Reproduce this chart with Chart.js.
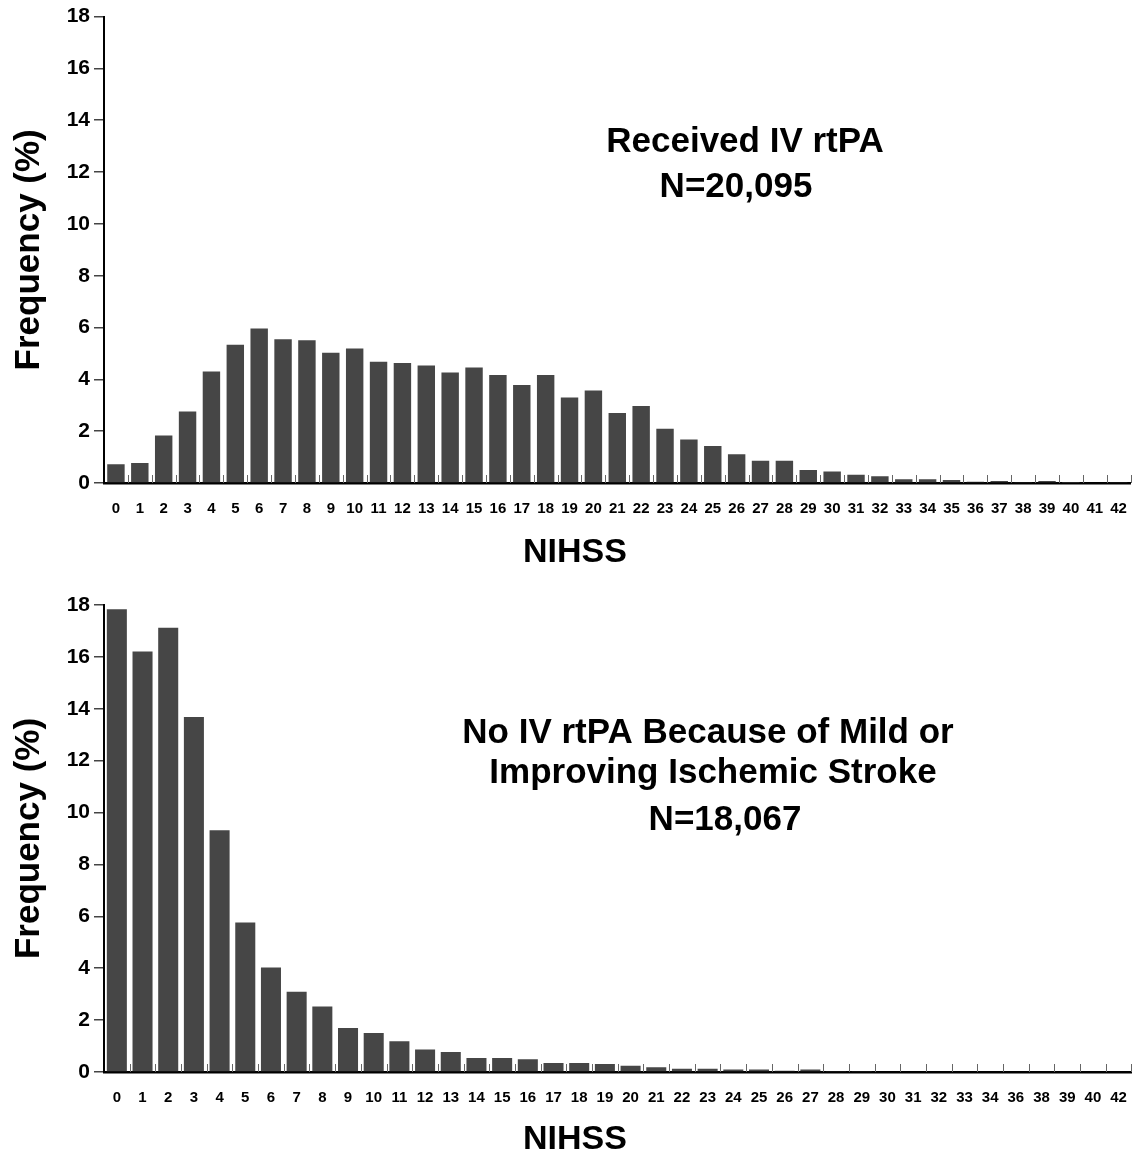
<!DOCTYPE html>
<html>
<head>
<meta charset="utf-8">
<title>NIHSS distribution</title>
<script src="https://cdn.jsdelivr.net/npm/chart.js@4.4.1/dist/chart.umd.min.js"></script>
<style>
  html, body { margin: 0; padding: 0; background: #fff; }
  canvas { display: block; }
</style>
</head>
<body>
<canvas id="receivedChart" width="1136" height="580"></canvas>
<canvas id="noTpaChart" width="1136" height="579"></canvas>
<script>
// NIHSS categories (the lower panel skips 35, 37 and 41)
const receivedScores = ['0', '1', '2', '3', '4', '5', '6', '7', '8', '9', '10', '11', '12', '13', '14',
    '15', '16', '17', '18', '19', '20', '21', '22', '23', '24', '25', '26', '27', '28', '29', '30',
    '31', '32', '33', '34', '35', '36', '37', '38', '39', '40', '41', '42']
const noTpaScores = ['0', '1', '2', '3', '4', '5', '6', '7', '8', '9', '10', '11', '12', '13', '14',
    '15', '16', '17', '18', '19', '20', '21', '22', '23', '24', '25', '26', '27', '28', '29', '30',
    '31', '32', '33', '34', '36', '38', '39', '40', '42']

// frequency (%)
const receivedPct = [0.72, 0.77, 1.83, 2.76, 4.30, 5.34, 5.96, 5.55, 5.51, 5.03,
    5.19, 4.68, 4.63, 4.53, 4.26, 4.46, 4.17, 3.78, 4.17, 3.30,
    3.57, 2.70, 2.97, 2.09, 1.68, 1.43, 1.11, 0.86, 0.86, 0.50,
    0.44, 0.32, 0.26, 0.14, 0.14, 0.12, 0.05, 0.08, 0.04, 0.08,
    0.01, 0.00, 0.04]
const noTpaPct = [17.84, 16.21, 17.12, 13.68, 9.32, 5.76, 4.03, 3.09, 2.52, 1.70,
    1.50, 1.19, 0.87, 0.77, 0.54, 0.54, 0.49, 0.35, 0.35, 0.31,
    0.24, 0.18, 0.13, 0.13, 0.10, 0.10, 0.05, 0.10, 0.04, 0.04,
    0, 0, 0, 0, 0, 0, 0, 0, 0, 0]

const yTicks = [0, 2, 4, 6, 8, 10, 12, 14, 16, 18]

const receivedLabel = ['Received IV rtPA', 'N=20,095']
const noTpaLabel    = ['No IV rtPA Because of Mild or', 'Improving Ischemic Stroke', 'N=18,067']
const xTitle = 'NIHSS'
const yTitle = 'Frequency (%)'

const FONT = "'Liberation Sans', Arial, Helvetica, sans-serif"

// small upward ticks between the bars + free text (panel label, x title)
const panelExtras = {
    id: 'panelExtras',
    afterDraw(chart, args, opts) {
        const {ctx} = chart
        const x = chart.scales.x
        const n = chart.data.labels.length
        const half = (x.getPixelForValue(1) - x.getPixelForValue(0)) / 2
        const base = chart.chartArea.bottom

        ctx.save()
        ctx.strokeStyle = '#666'
        ctx.lineWidth = 1
        for (let i = 1; i <= n; i++) {
            const px = Math.round(x.getPixelForValue(i - 1) + half) + 0.5
            ctx.beginPath()
            ctx.moveTo(px, base)
            ctx.lineTo(px, base - 8)
            ctx.stroke()
        }

        ctx.fillStyle = '#000'
        ctx.textAlign = 'center'
        ctx.textBaseline = 'middle'
        ctx.font = 'bold 35px ' + FONT
        opts.lines.forEach((line, i) => ctx.fillText(line, opts.pos[i][0], opts.pos[i][1]))
        ctx.font = 'bold 34px ' + FONT
        ctx.fillText(xTitle, opts.xTitle[0], opts.xTitle[1])
        ctx.restore()
    }
}

function makeChart(id, labels, values, cfg) {
    return new Chart(document.getElementById(id), {
        type: 'bar',
        data: {
            labels: labels,
            datasets: [{
                data: values,
                backgroundColor: '#464646',
                borderWidth: 0,
                barPercentage: cfg.barPct,
                categoryPercentage: 1
            }]
        },
        options: {
            responsive: false,
            animation: false,
            layout: { padding: { top: cfg.top, right: 3, bottom: 0, left: 0 } },
            plugins: {
                legend: { display: false },
                tooltip: { enabled: false },
                panelExtras: { lines: cfg.lines, pos: cfg.pos, xTitle: cfg.xTitle }
            },
            scales: {
                x: {
                    afterFit: scale => { scale.height = cfg.xHeight },
                    grid: { display: false },
                    border: { display: true, color: '#000', width: 2.5 },
                    ticks: {
                        autoSkip: false,
                        maxRotation: 0,
                        padding: 9,
                        color: '#000',
                        font: { family: FONT, size: 15, weight: 'bold' }
                    }
                },
                y: {
                    min: 0,
                    max: 18,
                    afterFit: scale => { scale.width = 104 },
                    afterBuildTicks: scale => { scale.ticks = yTicks.map(v => ({value: v})) },
                    grid: { drawOnChartArea: false, tickLength: 10, color: '#444', lineWidth: 1.5 },
                    border: { display: true, color: '#000', width: 2 },
                    ticks: {
                        padding: 4,
                        color: '#000',
                        font: { family: FONT, size: 21, weight: 'bold' }
                    },
                    title: {
                        display: true,
                        text: yTitle,
                        color: '#000',
                        padding: { top: 8, bottom: 0 },
                        font: { family: FONT, size: 35, weight: 'bold' }
                    }
                }
            }
        },
        plugins: [panelExtras]
    })
}

makeChart('receivedChart', receivedScores, receivedPct, {
    barPct: 0.73,
    top: 15,
    xHeight: 97,
    lines: receivedLabel,
    pos: [[745, 142], [736, 187]],
    xTitle: [575, 553]
})

makeChart('noTpaChart', noTpaScores, noTpaPct, {
    barPct: 0.78,
    top: 25,
    xHeight: 87,
    lines: noTpaLabel,
    pos: [[708, 153], [713, 193], [725, 240]],
    xTitle: [575, 560]
})
</script>
</body>
</html>
